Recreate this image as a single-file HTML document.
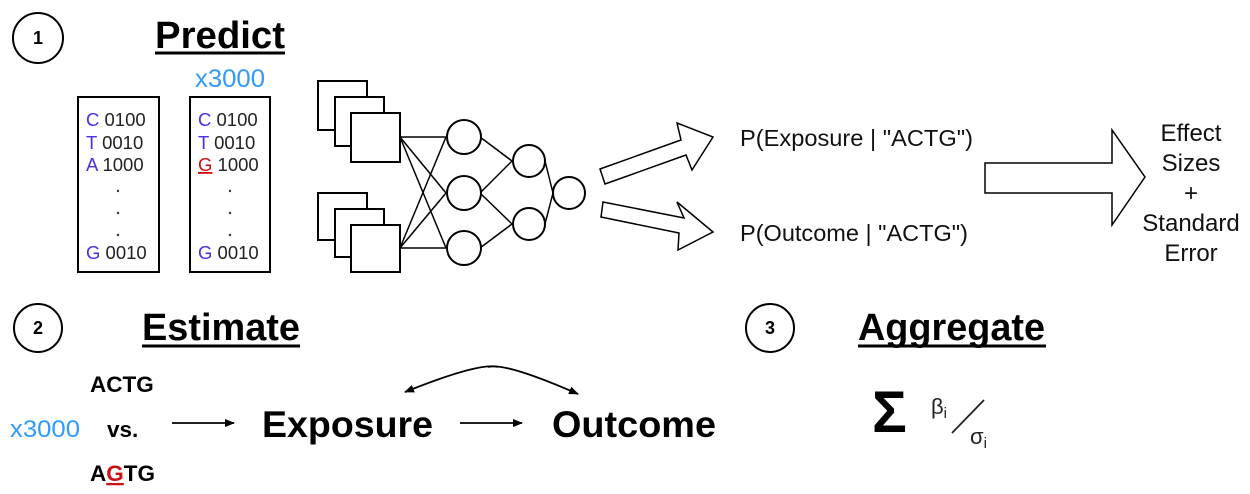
<!DOCTYPE html>
<html><head><meta charset="utf-8"><style>
html,body{margin:0;padding:0;background:#fff;}
svg{display:block;font-family:"Liberation Sans",sans-serif;}
</style></head><body>
<svg width="1250" height="494" viewBox="0 0 1250 494" xmlns="http://www.w3.org/2000/svg">
<defs>
<marker id="ah" markerWidth="10" markerHeight="10" refX="9" refY="5" orient="auto" markerUnits="userSpaceOnUse"><path d="M0,1 L10,5 L0,9 z" fill="#000"/></marker>
</defs>
<g fill="none" stroke="#000" stroke-width="2">
<circle cx="38" cy="38" r="25"/>
<circle cx="38" cy="328" r="24"/>
<circle cx="770" cy="328" r="24"/>
</g>
<g font-size="18" font-weight="bold" text-anchor="middle">
<text x="38" y="44">1</text><text x="38" y="334">2</text><text x="770" y="334">3</text>
</g>
<g font-weight="bold" font-size="38">
<text x="155" y="48" textLength="130" lengthAdjust="spacingAndGlyphs">Predict</text>
<text x="142" y="340" textLength="158" lengthAdjust="spacingAndGlyphs">Estimate</text>
<text x="858" y="340" textLength="187" lengthAdjust="spacingAndGlyphs">Aggregate</text>
</g>
<g stroke="#000" stroke-width="3">
<line x1="155" y1="53" x2="285" y2="53"/>
<line x1="142" y1="346" x2="300" y2="346"/>
<line x1="858" y1="346" x2="1046" y2="346"/>
</g>
<text x="195" y="87" font-size="25" fill="#2f9bff" textLength="70" lengthAdjust="spacingAndGlyphs">x3000</text>
<rect x="78" y="97" width="81" height="175" fill="none" stroke="#000" stroke-width="2"/>
<rect x="190" y="97" width="80" height="175" fill="none" stroke="#000" stroke-width="2"/>
<g font-size="18.5" fill="#222">
<text x="86" y="126"><tspan fill="#4a2fe8">C</tspan> 0100</text>
<text x="86" y="149"><tspan fill="#4a2fe8">T</tspan> 0010</text>
<text x="86" y="171"><tspan fill="#4a2fe8">A</tspan> 1000</text>
<text x="86" y="259"><tspan fill="#4a2fe8">G</tspan> 0010</text>
<text x="198" y="126"><tspan fill="#4a2fe8">C</tspan> 0100</text>
<text x="198" y="149"><tspan fill="#4a2fe8">T</tspan> 0010</text>
<text x="198" y="171"><tspan fill="#cc1111" text-decoration="underline">G</tspan> 1000</text>
<text x="198" y="259"><tspan fill="#4a2fe8">G</tspan> 0010</text>
</g>
<g fill="#333">
<circle cx="118" cy="191" r="1.2"/><circle cx="118" cy="213" r="1.2"/><circle cx="118" cy="235" r="1.2"/>
<circle cx="230" cy="191" r="1.2"/><circle cx="230" cy="213" r="1.2"/><circle cx="230" cy="235" r="1.2"/>
</g>
<g fill="#fff" stroke="#000" stroke-width="2">
<rect x="318" y="81" width="49" height="49"/><rect x="335" y="97" width="49" height="49"/><rect x="351" y="113" width="49" height="49"/>
<rect x="318" y="193" width="49" height="47"/><rect x="335" y="209" width="49" height="48"/><rect x="351" y="225" width="49" height="47"/>
</g>
<g stroke="#000" stroke-width="1.5">
<line x1="400" y1="137" x2="446" y2="137"/><line x1="400" y1="137" x2="446" y2="193"/><line x1="400" y1="137" x2="446" y2="248"/>
<line x1="400" y1="248" x2="446" y2="137"/><line x1="400" y1="248" x2="446" y2="193"/><line x1="400" y1="248" x2="446" y2="248"/>
<line x1="480" y1="137" x2="512" y2="161"/><line x1="480" y1="193" x2="512" y2="161"/><line x1="480" y1="193" x2="512" y2="224"/><line x1="480" y1="248" x2="512" y2="224"/>
<line x1="545" y1="161" x2="553" y2="193"/><line x1="545" y1="224" x2="553" y2="193"/>
</g>
<g fill="#fff" stroke="#000" stroke-width="2">
<circle cx="464" cy="137" r="17"/><circle cx="464" cy="193" r="17"/><circle cx="464" cy="248" r="17"/>
<circle cx="529" cy="161" r="16"/><circle cx="529" cy="224" r="16"/>
<circle cx="569" cy="193" r="16"/>
</g>
<g fill="none" stroke="#000" stroke-width="1.5">
<path d="M600,169 L681,140 L677,123 L713,137 L692,170 L686,155 L605,184 Z"/>
<path d="M603,202 L684,218 L677,202 L713,232 L678,250 L679,233 L601,217 Z"/>
<path d="M985,163 L1112,163 L1112,130 L1145,177 L1112,225 L1112,193 L985,193 Z"/>
</g>
<g font-size="23" fill="#111">
<text x="740" y="146" textLength="233" lengthAdjust="spacingAndGlyphs">P(Exposure | "ACTG")</text>
<text x="740" y="241" textLength="228" lengthAdjust="spacingAndGlyphs">P(Outcome | "ACTG")</text>
</g>
<g font-size="24" fill="#111" text-anchor="middle">
<text x="1191" y="141">Effect</text>
<text x="1191" y="171">Sizes</text>
<text x="1191" y="201">+</text>
<text x="1191" y="231">Standard</text>
<text x="1191" y="261">Error</text>
</g>
<g font-size="22.5" font-weight="bold">
<text x="90" y="392">ACTG</text>
<text x="107" y="437">vs.</text>
<text x="90" y="481">A<tspan fill="#cc1111" text-decoration="underline">G</tspan>TG</text>
</g>
<text x="10" y="437" font-size="24" fill="#2f9bff" textLength="70" lengthAdjust="spacingAndGlyphs">x3000</text>
<g font-size="37" font-weight="bold">
<text x="262" y="437" textLength="171" lengthAdjust="spacingAndGlyphs">Exposure</text>
<text x="552" y="437" textLength="164" lengthAdjust="spacingAndGlyphs">Outcome</text>
</g>
<g stroke="#000" stroke-width="1.8" fill="none">
<line x1="172" y1="423" x2="234" y2="423" marker-end="url(#ah)"/>
<line x1="460" y1="423" x2="522" y2="423" marker-end="url(#ah)"/>
<path d="M498,367 Q480,362 405,392" marker-end="url(#ah)"/>
<path d="M488,367 Q505,362 578,394" marker-end="url(#ah)"/>
</g>
<text x="872" y="432" font-size="58" font-weight="bold">Σ</text>
<text x="931" y="414" font-size="22" fill="#222">β<tspan font-size="15" dy="4">i</tspan></text>
<line x1="952" y1="433" x2="984" y2="400" stroke="#222" stroke-width="1.8"/>
<text x="970" y="444" font-size="22" fill="#222">σ<tspan font-size="15" dy="4">i</tspan></text>
</svg>
</body></html>
